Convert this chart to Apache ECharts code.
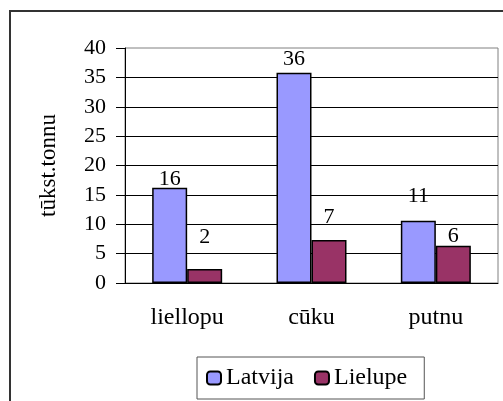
<!DOCTYPE html>
<html>
<head>
<meta charset="utf-8">
<script src="https://cdn.jsdelivr.net/npm/echarts@6/dist/echarts.min.js"></script>
<style>
  html, body { margin: 0; padding: 0; background: #fff; }
  #chart { width: 503px; height: 401px; }
</style>
</head>
<body>
<div id="chart"></div>
<script>
// dati
const categories = ['liellopu', 'cūku', 'putnu']
const latvija = [16.2, 35.8, 10.6]
const lielupe = [2.4, 7.3, 6.35]
const yTicks = [0, 5, 10, 15, 20, 25, 30, 35, 40]

// etiķešu atstarpes no stabiņa augšas (kā oriģinālā)
const latvijaLabelGap = [-2, 2, 14]
const lielupeLabelGap = [21, 12, -2]

const font = "'Liberation Serif', 'Times New Roman', serif"

function withLabels(values, gaps) {
  return values.map((v, i) => ({ value: v, label: { distance: gaps[i] } }))
}

const chart = echarts.init(document.getElementById('chart'))

chart.setOption({
  animation: false,
  backgroundColor: '#fff',
  textStyle: { fontFamily: font, color: '#000' },
  graphic: [{
    type: 'rect',
    shape: { x: 10, y: 11, width: 600, height: 500 },
    style: { fill: 'none', stroke: '#333', lineWidth: 2 },
    silent: true
  }],
  grid: {
    left: 125, top: 48, width: 373, height: 235,
    show: true, borderColor: '#808080', borderWidth: 1
  },
  legend: {
    left: 197, top: 357,
    padding: [9, 17, 9, 9],
    itemGap: 20,
    itemWidth: 14, itemHeight: 13,
    borderColor: '#555', borderWidth: 1,
    textStyle: { fontFamily: font, fontSize: 24, color: '#000' },
    data: ['Latvija', 'Lielupe']
  },
  xAxis: {
    type: 'category',
    data: categories,
    axisLine: { lineStyle: { color: '#000', width: 1 } },
    axisTick: { length: 8, lineStyle: { color: '#000' } },
    axisLabel: { fontFamily: font, fontSize: 24, color: '#000', margin: 23 }
  },
  yAxis: {
    type: 'value',
    min: yTicks[0],
    max: yTicks[yTicks.length - 1],
    interval: yTicks[1] - yTicks[0],
    name: 'tūkst.tonnu',
    nameLocation: 'middle',
    nameGap: 65,
    nameTextStyle: { fontFamily: font, fontSize: 23, color: '#000' },
    axisLine: { show: true, lineStyle: { color: '#000', width: 1 } },
    axisTick: { show: true, length: 9, lineStyle: { color: '#000' } },
    axisLabel: { fontFamily: font, fontSize: 22, color: '#000', margin: 19 },
    splitLine: { show: true, showMaxLine: false, lineStyle: { color: '#000', width: 1 } }
  },
  series: [
    {
      name: 'Latvija',
      type: 'bar',
      barWidth: 35,
      barGap: '0%',
      data: withLabels(latvija, latvijaLabelGap),
      itemStyle: { color: '#9999FF', borderColor: '#000', borderWidth: 1.5 },
      label: {
        show: true, position: 'top',
        fontFamily: font, fontSize: 22, color: '#000',
        formatter: p => Math.round(p.value)
      }
    },
    {
      name: 'Lielupe',
      type: 'bar',
      barWidth: 35,
      data: withLabels(lielupe, lielupeLabelGap),
      itemStyle: { color: '#993366', borderColor: '#000', borderWidth: 1.5 },
      label: {
        show: true, position: 'top',
        fontFamily: font, fontSize: 22, color: '#000',
        formatter: p => Math.round(p.value)
      }
    }
  ]
})
</script>
</body>
</html>
